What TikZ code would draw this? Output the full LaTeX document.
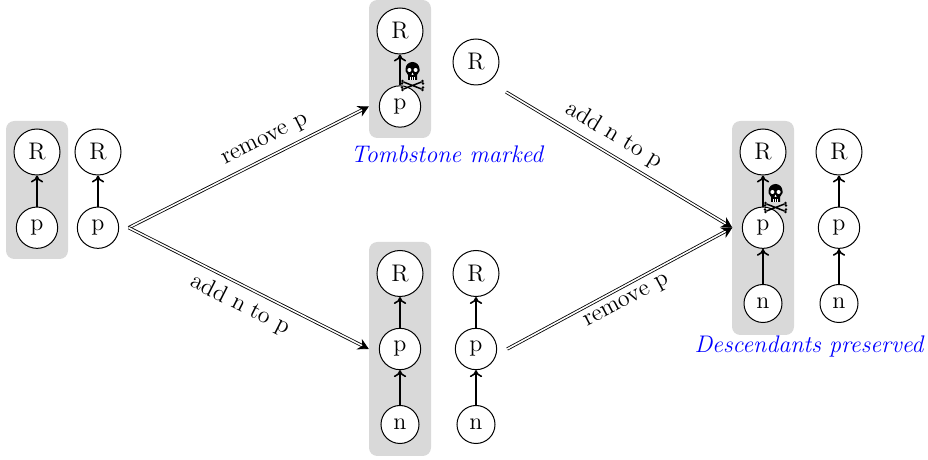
\documentclass[tikz,border=0pt]{standalone}
\usetikzlibrary{calc,arrows.meta}
\tikzset{
  x=0.6pt,y=-0.6pt,
  big/.style={circle,draw,line width=0.6pt,fill=white,minimum size=27.6pt,inner sep=0pt,font=\fontsize{14.4}{16}\selectfont},
  mid/.style={big,minimum size=24.8pt},
  small/.style={big,minimum size=22.8pt},
  link/.style={line width=0.95pt,-{Computer Modern Rightarrow[length=4.2pt,width=7.4pt]}},
  rule/.style={double,double distance=0.95pt,line width=0.5pt,-{Stealth[length=6.5pt,width=7pt,inset=2.2pt]}},
  panel/.style={fill=black!15,rounded corners=5pt},
  lab/.style={font=\fontsize{14.4}{16}\selectfont,sloped,inner sep=1.5pt},
  note/.style={font=\fontsize{14.4}{16}\selectfont\itshape,text=blue,inner sep=0pt},
  skull/.pic={
    \fill (-7,-4) arc[start angle=180,end angle=360,radius=7] -- (7,-2) -- (4.5,2) -- (4.5,7) -- (-4.5,7) -- (-4.5,2) -- (-7,-2) -- cycle;
    \fill[white] (-3.1,-3) circle[radius=2] (3.1,-3) circle[radius=2];
    \fill[white] (0,-0.4) -- (-1,1.8) -- (1,1.8) -- cycle;
    \draw[white,line width=0.3pt] (-2,4) -- (-2,7) (0,4) -- (0,7) (2,4) -- (2,7);
    \draw[line width=0.9pt] (-9,9) -- (9,16) (9,9) -- (-9,16);
    \fill (-10,8) circle[radius=1.4] (-10.5,10.5) circle[radius=1.4] (10,8) circle[radius=1.4] (10.5,10.5) circle[radius=1.4]
          (-10,17) circle[radius=1.4] (-10.5,14.5) circle[radius=1.4] (10,17) circle[radius=1.4] (10.5,14.5) circle[radius=1.4];
  }
}
\begin{document}
\begin{tikzpicture}
\useasboundingbox (0,0) rectangle (928,460);
\fill[panel] (6,121) rectangle (68,259);
\fill[panel] (369,0) rectangle (431,138);
\fill[panel] (369,242) rectangle (431,456);
\fill[panel] (732,121) rectangle (794,335);
% left
\node[big] (lr1) at (37,152) {R};
\node[mid] (lp1) at (37,227.7) {p};
\node[big] (lr2) at (98,152) {R};
\node[mid] (lp2) at (98,227.7) {p};
% top
\node[big] (tr1) at (400,31) {R};
\node[mid] (tp1) at (400,106.5) {p};
\node[big] (tr2) at (476,62) {R};
% bottom
\node[big] (br1) at (400,273.5) {R};
\node[mid] (bp1) at (400,349) {p};
\node[small] (bn1) at (400,424.5) {n};
\node[big] (br2) at (476,273.5) {R};
\node[mid] (bp2) at (476,349) {p};
\node[small] (bn2) at (476,424.5) {n};
% right
\node[big] (rr1) at (763,152) {R};
\node[mid] (rp1) at (763,227.7) {p};
\node[small] (rn1) at (763,303.5) {n};
\node[big] (rr2) at (839,152) {R};
\node[mid] (rp2) at (839,227.7) {p};
\node[small] (rn2) at (839,303.5) {n};
% links
\draw[link] (lp1) -- (lr1);
\draw[link] (lp2) -- (lr2);
\draw[link] (tp1) -- (tr1);
\draw[link] (bp1) -- (br1);
\draw[link] (bn1) -- (bp1);
\draw[link] (bp2) -- (br2);
\draw[link] (bn2) -- (bp2);
\draw[link] (rp1) -- (rr1);
\draw[link] (rn1) -- (rp1);
\draw[link] (rp2) -- (rr2);
\draw[link] (rn2) -- (rp2);
% skulls
\pic at (412.5,73) {skull};
\pic at (775.5,195) {skull};
% rules
\coordinate (a) at ($(lp2.east)+(9.5,0)$);
\coordinate (b) at ($(tp1.west)+(-10,0)$);
\coordinate (c) at ($(bp1.west)+(-10,0)$);
\coordinate (d) at ($(tr2)+(30,30)$);
\coordinate (e) at ($(rp1.west)+(-9.5,0)$);
\coordinate (f) at ($(bp2.east)+(10,0)$);
\draw[rule] (a) -- node[lab,pos=0.6,above=3pt] {remove p} (b);
\draw[rule] (a) -- node[lab,pos=0.5,below=3pt] {add n to p} (c);
\draw[rule] (d) -- node[lab,pos=0.435,above=3pt] {add n to p} (e);
\draw[rule] (f) -- node[lab,pos=0.5,below=3pt] {remove p} (e);
\node[note] (t1) at (447,154) {Tombstone marked};
\node[note] (t2) at (809,347) {Descendants preserved};
\end{tikzpicture}
\end{document}
